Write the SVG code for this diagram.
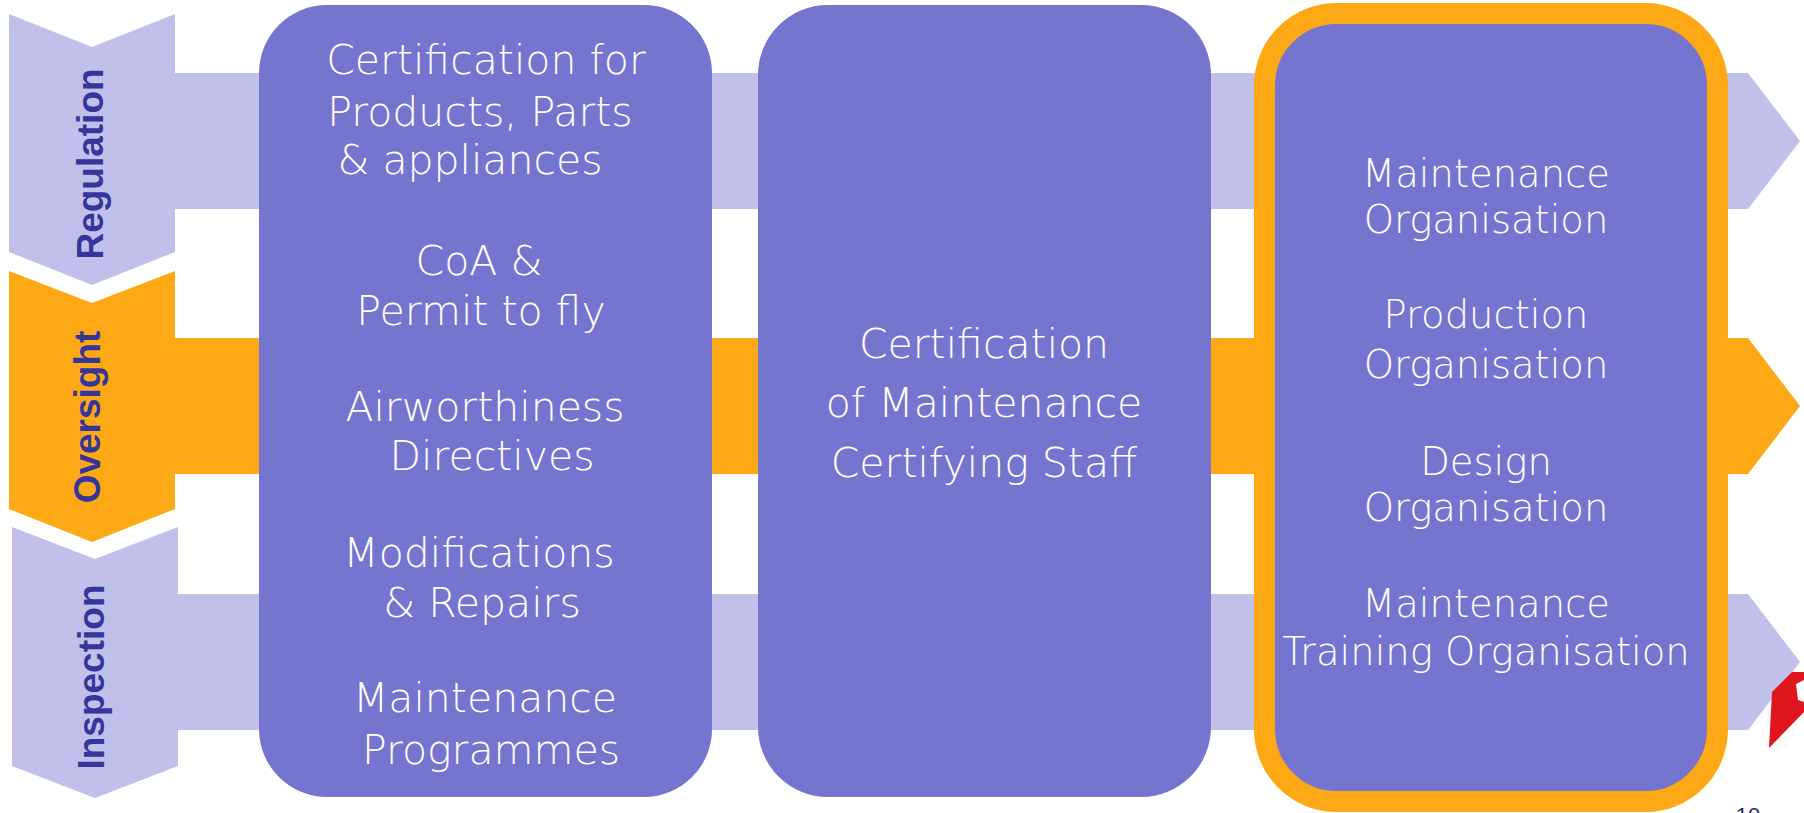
<svg xmlns="http://www.w3.org/2000/svg" width="1804" height="813" viewBox="0 0 1804 813">
<style>
.lav{fill:#C1C0EA}
.org{fill:#FDA916}
.box{fill:#7574CF}
.lbl{font-family:"Liberation Sans",Arial,sans-serif;font-weight:bold;font-size:37px;fill:#35359B;text-anchor:middle}
.t{font-family:"DejaVu Sans",sans-serif;font-weight:200;fill:#FFFFFF;text-anchor:middle}
.t1{font-size:41px}
.t3{font-size:38.5px}
</style>
<rect width="1804" height="813" fill="#FFFFFF"/>
<g id="connectors">
<polygon class="lav" points="175,73 1748,73 1800,141 1748,209 175,209"/>
<polygon class="org" points="175,338 1748,338 1800,406 1748,474 175,474"/>
<polygon class="lav" points="178,594 1748,594 1800,662 1748,730 178,730"/>
</g>
<g id="regulation">
<polygon class="lav" points="9,14 92,47 175,14 175,252 92,285 9,252"/>
<text class="lbl" transform="translate(103,164) rotate(-90)">Regulation</text>
</g>
<g id="oversight">
<polygon class="org" points="9,271 92,303 175,271 175,509 92,542 9,509"/>
<text class="lbl" transform="translate(100,417) rotate(-90)">Oversight</text>
</g>
<g id="inspection">
<polygon class="lav" points="12,527 95,559 178,527 178,766 95,798 12,766"/>
<text class="lbl" transform="translate(104,677) rotate(-90)">Inspection</text>
</g>
<g id="box-products">
<rect class="box" x="259" y="5" width="453" height="792" rx="68" ry="68"/>
<text class="t t1" x="486" y="74">Certification for</text>
<text class="t t1" x="480" y="126">Products, Parts</text>
<text class="t t1" x="470" y="174">&amp; appliances</text>
<text class="t t1" x="479" y="275">CoA &amp;</text>
<text class="t t1" x="481" y="325">Permit to fly</text>
<text class="t t1" x="485" y="421">Airworthiness</text>
<text class="t t1" x="492" y="470">Directives</text>
<text class="t t1" x="479" y="567">Modifications</text>
<text class="t t1" x="482" y="617">&amp; Repairs</text>
<text class="t t1" x="485" y="712">Maintenance</text>
<text class="t t1" x="491" y="764">Programmes</text>
</g>
<g id="box-staff">
<rect class="box" x="758" y="5" width="453" height="792" rx="70" ry="70"/>
<text class="t t1" x="984" y="358">Certification</text>
<text class="t t1" x="984" y="417">of Maintenance</text>
<text class="t t1" x="984" y="477">Certifying Staff</text>
</g>
<g id="box-organisations">
<rect class="box" x="1264.5" y="13.5" width="453" height="788" rx="72" ry="72" stroke="#FDA916" stroke-width="21"/>
<text class="t t3" x="1486" y="187">Maintenance</text>
<text class="t t3" x="1486" y="233">Organisation</text>
<text class="t t3" x="1486" y="328">Production</text>
<text class="t t3" x="1486" y="378">Organisation</text>
<text class="t t3" x="1486" y="475">Design</text>
<text class="t t3" x="1486" y="521">Organisation</text>
<text class="t t3" x="1486" y="617">Maintenance</text>
<text class="t t3" x="1486" y="665">Training Organisation</text>
</g>
<g id="logo">
<polygon points="1769,748 1772,692 1792,672 1804,672 1804,712" fill="#E0161E"/>
<polygon points="1796,684 1804,680 1804,702 1798,700" fill="#FFFFFF"/>
</g>
<text x="1748" y="823" font-family="'Liberation Sans',Arial,sans-serif" font-size="22" fill="#1F2A6B" text-anchor="middle">10</text>
</svg>
